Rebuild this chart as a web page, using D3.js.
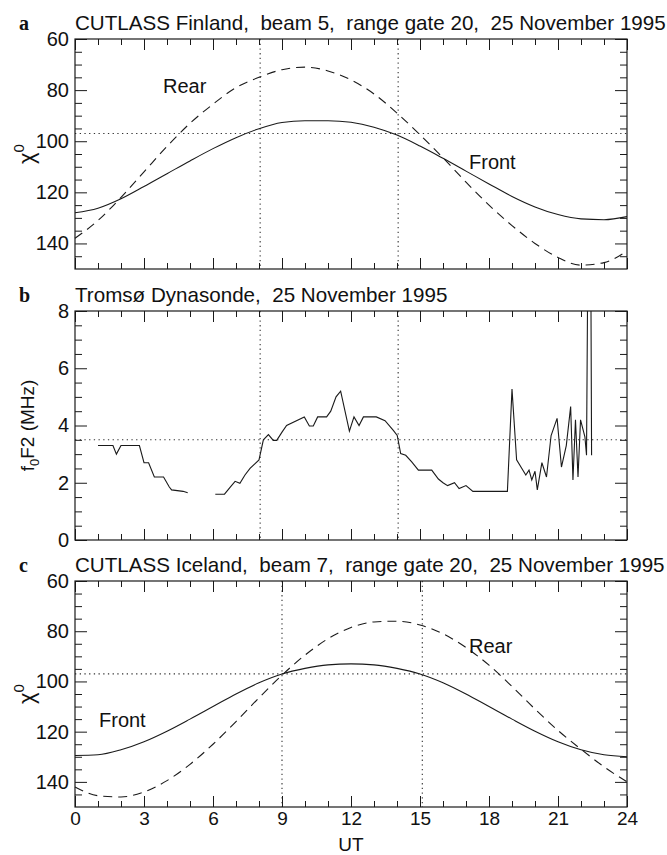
<!DOCTYPE html>
<html>
<head>
<meta charset="utf-8">
<script src="https://cdn.jsdelivr.net/npm/d3@7"></script>
<style>
body { margin: 0; background: #fff; }
svg text { font-family: "Liberation Sans", Arial, Helvetica, sans-serif; fill: #111; }
</style>
</head>
<body>
<svg id="chart" width="667" height="855"></svg>
<script>
// UT hours for the zenith angle curves
const hours = [0, 1, 2, 3, 4, 5, 6, 7, 8, 9, 10, 11, 12, 13, 14, 15, 16, 17, 18, 19, 20, 21, 22, 23, 24]

// panel a: CUTLASS Finland, chi (deg)
const finFront = [128, 126.2, 122.5, 117.7, 112.7, 107.7, 102.9, 98.6, 95.1, 92.7, 92, 92, 92.6, 94.5, 97.6, 101.9, 106.7, 111.7, 116.7, 121.6, 125.7, 128.7, 130.4, 130.7, 129.5]
const finRear = [138, 131, 122, 112, 102, 93, 85.5, 79, 75, 72, 71, 72.5, 76, 81.5, 89, 97.5, 106.5, 116, 125, 133, 140, 145.5, 148.5, 147.5, 143]

// panel c: CUTLASS Iceland, chi (deg)
const iceFront = [129.5, 129.2, 127.2, 124, 119.8, 115, 110, 105, 100.5, 97, 94.8, 93.4, 93, 93.4, 94.8, 97, 100.5, 105, 110, 115, 119.8, 124, 127.2, 129.2, 130]
const iceRear = [142, 145.5, 146, 144, 139.5, 133, 125, 116, 106.5, 97.5, 89.5, 83, 78.5, 76.3, 76, 77.5, 81, 86.5, 93.5, 102, 111, 119.5, 127, 134, 140]

// panel b: Tromso dynasonde foF2 (MHz), null = no sounding
const dynaUT = [1.0, 1.65, 1.8, 2.0, 2.8, 3.0, 3.2, 3.45, 3.85, 4.1, 4.2, 4.7, 4.9, 5.5,
  6.1, 6.5, 6.75, 6.96, 7.17, 7.39, 7.61, 7.83, 8.0, 8.19, 8.41, 8.62, 8.77, 9.0, 9.2, 9.97,
  10.19, 10.36, 10.55, 10.94, 11.12, 11.35, 11.55, 11.93, 12.13, 12.35, 12.54, 13.1, 13.48,
  13.84, 14.01, 14.16, 14.38, 14.64, 14.93, 15.51, 15.8, 16.0, 16.2, 16.5, 16.7, 17.0, 17.3,
  18.8, 19.0, 19.2, 19.6, 19.74, 19.86, 20.0, 20.1, 20.3, 20.5, 20.7, 20.96, 21.15, 21.36,
  21.55, 21.65, 21.76, 21.87, 21.98, 22.17, 22.24, 22.29, 22.43, 22.46]
const dynaF = [3.3, 3.3, 3.0, 3.3, 3.3, 2.7, 2.7, 2.2, 2.2, 1.85, 1.75, 1.7, 1.65, null,
  1.6, 1.6, 1.85, 2.05, 1.98, 2.27, 2.5, 2.67, 2.8, 3.5, 3.68, 3.48, 3.48, 3.77, 4.0, 4.3,
  3.98, 3.98, 4.3, 4.3, 4.5, 5.0, 5.2, 3.8, 4.3, 4.0, 4.3, 4.3, 4.17,
  3.83, 3.65, 3.02, 2.96, 2.73, 2.44, 2.44, 2.13, 2.0, 1.9, 2.0, 1.8, 1.9, 1.7,
  1.7, 5.27, 2.8, 2.27, 2.44, 2.1, 2.4, 1.75, 2.7, 2.2, 3.65, 4.25, 2.55, 3.3,
  4.66, 2.1, 4.2, 2.2, 4.2, 3.6, 2.96, 9, 9, 2.96]

// dotted reference lines
const finMarks = [8.05, 14.05]
const iceMarks = [9.0, 15.1]
const chiLevel = 97
const foF2Level = 3.5

const xTicks = [0, 3, 6, 9, 12, 15, 18, 21, 24]
const xMinor = [1, 2, 4, 5, 7, 8, 10, 11, 13, 14, 16, 17, 19, 20, 22, 23]
const chiTicks = [60, 80, 100, 120, 140]
const chiMinor = [65, 70, 75, 85, 90, 95, 105, 110, 115, 125, 130, 135, 145]
const fTicks = [0, 2, 4, 6, 8]
const fMinor = [0.5, 1, 1.5, 2.5, 3, 3.5, 4.5, 5, 5.5, 6.5, 7, 7.5]

const svg = d3.select('#chart')
const ink = '#1a1a1a'
const x = d3.scaleLinear().domain([0, 24]).range([75, 627])

const panels = [
  { key: 'a', title: 'CUTLASS Finland,  beam 5,  range gate 20,  25 November 1995', top: 39, bottom: 269, domain: [60, 150] },
  { key: 'b', title: 'Tromsø Dynasonde,  25 November 1995', top: 311, bottom: 540, domain: [8, 0] },
  { key: 'c', title: 'CUTLASS Iceland,  beam 7,  range gate 20,  25 November 1995', top: 581, bottom: 807, domain: [60, 150] }
]

function frame(p, y, major, minor, labels) {
  const g = svg.append('g').attr('color', ink)
  const noDomain = s => s.select('.domain').remove()
  // inward ticks on all four sides
  g.append('g').attr('transform', `translate(0,${p.bottom})`)
    .call(d3.axisBottom(x).tickValues(xTicks).tickSize(-11).tickFormat('')).call(noDomain)
  g.append('g').attr('transform', `translate(0,${p.bottom})`)
    .call(d3.axisBottom(x).tickValues(xMinor).tickSize(-6).tickFormat('')).call(noDomain)
  g.append('g').attr('transform', `translate(0,${p.top})`)
    .call(d3.axisTop(x).tickValues(xTicks).tickSize(-11).tickFormat('')).call(noDomain)
  g.append('g').attr('transform', `translate(0,${p.top})`)
    .call(d3.axisTop(x).tickValues(xMinor).tickSize(-6).tickFormat('')).call(noDomain)
  g.append('g').attr('transform', `translate(${x(0)},0)`)
    .call(d3.axisLeft(y).tickValues(major).tickSize(-12).tickFormat('')).call(noDomain)
  g.append('g').attr('transform', `translate(${x(0)},0)`)
    .call(d3.axisLeft(y).tickValues(minor).tickSize(-7).tickFormat('')).call(noDomain)
  g.append('g').attr('transform', `translate(${x(24)},0)`)
    .call(d3.axisRight(y).tickValues(major).tickSize(-12).tickFormat('')).call(noDomain)
  g.append('g').attr('transform', `translate(${x(24)},0)`)
    .call(d3.axisRight(y).tickValues(minor).tickSize(-7).tickFormat('')).call(noDomain)
  g.selectAll('.tick line').attr('stroke-width', 1)

  // y tick labels
  const yl = g.append('g').attr('transform', `translate(${x(0)},0)`)
    .call(d3.axisLeft(y).tickValues(major).tickSize(0).tickPadding(6)).call(noDomain)
  yl.selectAll('text').attr('font-size', 20).attr('font-family', null).attr('fill', ink)

  if (labels) {
    const xl = g.append('g').attr('transform', `translate(0,${p.bottom})`)
      .call(d3.axisBottom(x).tickValues(xTicks).tickSize(0).tickPadding(5)).call(noDomain)
    xl.selectAll('text').attr('font-size', 19).attr('font-family', null).attr('fill', ink)
  }

  g.append('rect')
    .attr('x', x(0)).attr('y', p.top)
    .attr('width', x(24) - x(0)).attr('height', p.bottom - p.top)
    .attr('fill', 'none').attr('stroke', ink).attr('stroke-width', 1.2)

  svg.append('text').attr('x', 19).attr('y', p.top - 9)
    .style('font-family', '"Liberation Serif", "Times New Roman", serif')
    .attr('font-weight', 'bold').attr('font-size', 20).text(p.key)
  svg.append('text').attr('x', 75).attr('y', p.top - 9)
    .attr('font-size', 20.6).style('white-space', 'pre').text(p.title)
}

function dotted(p, y, marks, level) {
  const g = svg.append('g').attr('stroke', '#333').attr('stroke-width', 1.1)
    .attr('stroke-dasharray', '1.3,3.4').attr('fill', 'none')
  g.selectAll('line.v').data(marks).join('line')
    .attr('x1', d => x(d)).attr('x2', d => x(d))
    .attr('y1', p.top).attr('y2', p.bottom)
  g.append('line').attr('x1', x(0)).attr('x2', x(24))
    .attr('y1', y(level)).attr('y2', y(level))
}

function curve(y, vals, dash) {
  const line = d3.line().x((d, i) => x(hours[i])).y(d => y(d)).curve(d3.curveMonotoneX)
  svg.append('path').datum(vals).attr('d', line)
    .attr('fill', 'none').attr('stroke', ink).attr('stroke-width', 1.1)
    .attr('stroke-dasharray', dash ? '9,6' : null)
}

function chiLabel(p) {
  const t = svg.append('text')
    .attr('transform', `translate(34,${(p.top + p.bottom) / 2}) rotate(-90)`)
    .attr('text-anchor', 'middle').attr('font-size', 22)
  t.append('tspan').text('χ')
  t.append('tspan').attr('font-size', 15).attr('dy', -10).text('0')
}

function note(px, py, txt) {
  svg.append('text').attr('x', px).attr('y', py).attr('font-size', 20).text(txt)
}

// panel a
const pa = panels[0]
const ya = d3.scaleLinear().domain(pa.domain).range([pa.top, pa.bottom])
dotted(pa, ya, finMarks, chiLevel)
curve(ya, finFront, false)
curve(ya, finRear, true)
frame(pa, ya, chiTicks, chiMinor, false)
chiLabel(pa)
note(163, 93, 'Rear')
note(469, 169, 'Front')

// panel b
const pb = panels[1]
const yb = d3.scaleLinear().domain([0, 8]).range([pb.bottom, pb.top])
dotted(pb, yb, finMarks, foF2Level)
svg.append('clipPath').attr('id', 'clipb').append('rect')
  .attr('x', x(0)).attr('y', pb.top).attr('width', x(24) - x(0)).attr('height', pb.bottom - pb.top)
const dyna = dynaUT.map((u, i) => ({ u, f: dynaF[i] }))
svg.append('path').datum(dyna)
  .attr('clip-path', 'url(#clipb)')
  .attr('d', d3.line().defined(d => d.f != null).x(d => x(d.u)).y(d => yb(d.f)))
  .attr('fill', 'none').attr('stroke', ink).attr('stroke-width', 1.1)
frame(pb, yb, fTicks, fMinor, false)
const fl = svg.append('text')
  .attr('transform', `translate(34,${(pb.top + pb.bottom) / 2}) rotate(-90)`)
  .attr('text-anchor', 'middle').attr('font-size', 19)
fl.append('tspan').text('f')
fl.append('tspan').attr('font-size', 13).attr('dy', 5).text('0')
fl.append('tspan').attr('dy', -5).text('F2 (MHz)')

// panel c
const pc = panels[2]
const yc = d3.scaleLinear().domain(pc.domain).range([pc.top, pc.bottom])
dotted(pc, yc, iceMarks, chiLevel)
curve(yc, iceFront, false)
curve(yc, iceRear, true)
frame(pc, yc, chiTicks, chiMinor, true)
chiLabel(pc)
note(99, 727, 'Front')
note(469, 653, 'Rear')

svg.append('text').attr('x', x(12)).attr('y', 851)
  .attr('text-anchor', 'middle').attr('font-size', 19).text('UT')
</script>
</body>
</html>
